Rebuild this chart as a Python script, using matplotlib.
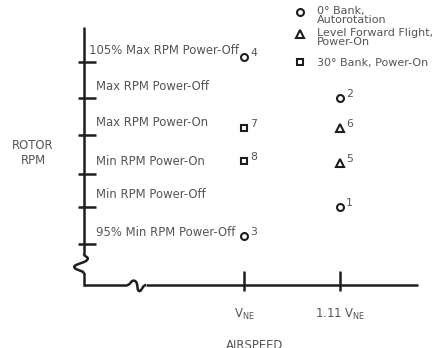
import matplotlib
matplotlib.use("Agg")
import matplotlib.pyplot as plt
from matplotlib.path import Path
from matplotlib.patches import PathPatch

# ---------------- data ----------------
rpm_levels = ["105% Max RPM Power-Off", "Max RPM Power-Off", "Max RPM Power-On",
              "Min RPM Power-On", "Min RPM Power-Off", "95% Min RPM Power-Off"]
rpm_level_pos = [6.0, 5.0, 4.0, 2.93, 2.02, 1.0]

airspeed_ticks = [1.0, 1.11]
airspeed_labels = ["V$_{\\mathregular{NE}}$", "1.11 V$_{\\mathregular{NE}}$"]

point_ids = ["1", "2", "3", "4", "5", "6", "7", "8"]
point_airspeed = [1.11, 1.11, 1.0, 1.0, 1.11, 1.11, 1.0, 1.0]
point_rpm = [2.02, 5.0, 1.22, 6.14, 3.23, 4.2, 4.2, 3.28]
point_kind = ["circle", "circle", "circle", "circle", "triangle", "triangle", "square", "square"]

legend_kinds = ["circle", "triangle", "square"]
legend_texts = ["0° Bank,\nAutorotation", "Level Forward Flight,\nPower-On", "30° Bank, Power-On"]

# ---------------- figure ----------------
W, H = 446, 348
fig = plt.figure(figsize=(W / 100, H / 100), dpi=100)
ax = fig.add_axes([0, 0, 1, 1])
ax.set_axis_off()

PX_X = 872.7   # px per 1.0 V_NE
PX_Y = 36.4    # px per RPM level
ax.set_xlim(1 - 244 / PX_X, 1 + (W - 244) / PX_X)
ax.set_ylim(1 - (H - 244) / PX_Y, 1 + 244 / PX_Y)


def X(px):
    return 1 + (px - 244) / PX_X


def Y(py):
    return 1 + (244 - py) / PX_Y


LINE = "#1e1e1e"
TXT = "#555555"
FONT = "DejaVu Sans"
FS = 8.4
LW = 1.8

x0 = X(84)
y0 = Y(285)

# y axis with break (S-shaped squiggle)
ax.plot([x0, x0], [Y(27), Y(254)], color=LINE, lw=LW, solid_capstyle="butt")
verts = [(84, 254), (84, 257), (91, 257), (86, 261),
         (81, 264), (70, 265), (76, 269),
         (80, 271), (84, 271), (84, 274)]
codes = [Path.MOVETO, Path.CURVE4, Path.CURVE4, Path.CURVE4,
         Path.CURVE4, Path.CURVE4, Path.CURVE4,
         Path.CURVE4, Path.CURVE4, Path.CURVE4]
ax.add_patch(PathPatch(Path([(X(a), Y(b)) for a, b in verts], codes),
                       fill=False, edgecolor=LINE, lw=LW))
ax.plot([x0, x0], [Y(274), y0], color=LINE, lw=LW, solid_capstyle="projecting")

# x axis with break
ax.plot([x0, X(127)], [y0, y0], color=LINE, lw=LW, solid_capstyle="butt")
verts2 = [(127, 285), (131, 285), (131, 279), (135, 281),
          (139, 283), (136, 292), (140, 291),
          (142, 290), (143, 285), (146, 285)]
ax.add_patch(PathPatch(Path([(X(a), Y(b)) for a, b in verts2], codes),
                       fill=False, edgecolor=LINE, lw=LW))
ax.plot([X(146), X(418)], [y0, y0], color=LINE, lw=LW, solid_capstyle="butt")

# y ticks + labels
label_shift = [-7, 0, 0, 0, 0, 0]
for name, lv, sh in zip(rpm_levels, rpm_level_pos, label_shift):
    ax.plot([X(78), X(96)], [lv, lv], color=LINE, lw=LW, solid_capstyle="butt")
    ax.text(X(96 + sh), lv + 12 / PX_Y, name, fontsize=FS, color=TXT, family=FONT,
            ha="left", va="center")

# x ticks + labels
for v, lab in zip(airspeed_ticks, airspeed_labels):
    ax.plot([v, v], [Y(271), Y(291)], color=LINE, lw=LW, solid_capstyle="butt")
    ax.text(v, Y(314), lab, fontsize=FS, color=TXT, family=FONT, ha="center", va="center")

ax.text(X(255), Y(339), "AIRSPEED", fontsize=FS, color=TXT, family=FONT,
        ha="center", va="top")
ax.text(X(33), Y(153), "ROTOR\nRPM", fontsize=FS, color=TXT,
        family=FONT, ha="center", va="center", linespacing=1.2)

marker_map = {"circle": "o", "triangle": "^", "square": "s"}
msize = {"circle": 5, "triangle": 5.2, "square": 4.6}

for pid, v, r, k in zip(point_ids, point_airspeed, point_rpm, point_kind):
    ax.plot(v, r, marker=marker_map[k], ms=msize[k], mfc="none", mec=LINE, mew=1.5, ls="none")
    ax.text(v + 6 / PX_X, r + 4 / PX_Y, pid, fontsize=FS - 0.6, color=TXT, family=FONT,
            ha="left", va="center")

# legend
LFS = 8.0
leg_marker_y = [12, 34, 62]
for k, txt, ly in zip(legend_kinds, legend_texts, leg_marker_y):
    ax.plot(X(300), Y(ly), marker=marker_map[k], ms=msize[k], mfc="none", mec=LINE,
            mew=1.5, ls="none")
    if "\n" in txt:
        ax.text(X(317), Y(ly - 6), txt, fontsize=LFS, color=TXT, family=FONT,
                ha="left", va="top", linespacing=0.92)
    else:
        ax.text(X(317), Y(ly + 1), txt, fontsize=LFS, color=TXT, family=FONT,
                ha="left", va="center")

fig.savefig("out.png", dpi=100)
